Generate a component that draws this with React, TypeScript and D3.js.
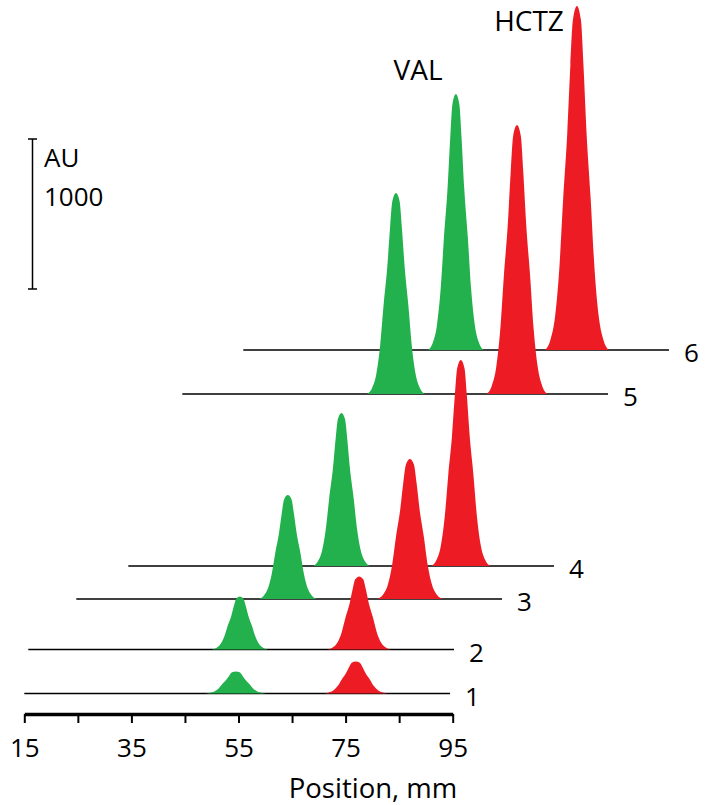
import React, { useEffect, useRef } from 'react';
import * as d3 from 'd3';

// tracks, front (1) to back (6)
const tracks = ['1', '2', '3', '4', '5', '6'];

// VAL peaks: position (mm), height (AU), width sigma (mm)
const valPos = [54.5, 54.5, 54.5, 54.8, 54.9, 54.7];
const valHeight = [147, 353, 693, 1020, 1340, 1707];
const valSigma = [1.9, 1.75, 1.8, 1.75, 1.77, 1.7];

// HCTZ peaks
const hctzPos = [76.9, 76.8, 77.3, 77.1, 77.5, 77.3];
const hctzHeight = [213, 487, 933, 1373, 1793, 2293];
const hctzSigma = [2.0, 1.95, 2.0, 1.8, 1.87, 1.96];

// peak shape read from the tallest HCTZ peak: offset (in sigma), relative height
const profile: [number, number][] = [
  [0, 1], [0.38, 0.96], [0.62, 0.83], [0.92, 0.63], [1.31, 0.44],
  [1.67, 0.24], [2.07, 0.1], [2.52, 0.03], [3.05, 0],
];

const axisTicks = [15, 25, 35, 45, 55, 65, 75, 85, 95];
const axisLabels = [15, 35, 55, 75, 95];

// layout: shift of each track baseline against the front axis (px)
const shiftX = [0, 4, 52, 104, 158, 219];
const shiftY = [-20.5, -64.5, -115, -148, -320, -364];

const GREEN = '#22b14c';
const RED = '#ed1c24';
const FONT = "'Open Sans', sans-serif";

export default function App() {
  const ref = useRef<SVGSVGElement>(null);

  useEffect(() => {
    const width = 705;
    const height = 805;
    const svg = d3.select(ref.current);
    svg.selectAll('*').remove();
    svg.attr('width', width).attr('height', height);

    const axisY = 714;
    const x = d3.scaleLinear().domain([15, 95]).range([24.3, 452.7]);
    const h = d3.scaleLinear().domain([0, 1000]).range([0, 150]);

    const shape = [
      ...profile.slice(1).reverse().map(([o, r]) => [-o, r]),
      ...profile,
    ];

    // back to front
    for (let i = tracks.length - 1; i >= 0; i--) {
      const dx = shiftX[i];
      const base = axisY + shiftY[i];
      const g = svg.append('g').attr('transform', `translate(${dx},0)`);

      g.append('line')
        .attr('x1', x(15))
        .attr('x2', x(94.5))
        .attr('y1', base)
        .attr('y2', base)
        .attr('stroke', '#000')
        .attr('stroke-width', 1.6);

      const peaks = [
        { pos: valPos[i], ht: valHeight[i], sd: valSigma[i], color: GREEN },
        { pos: hctzPos[i], ht: hctzHeight[i], sd: hctzSigma[i], color: RED },
      ];
      peaks.forEach((p) => {
        const area = d3
          .area<number[]>()
          .x((d) => x(p.pos + d[0] * p.sd))
          .y0(base)
          .y1((d) => base - h(p.ht * d[1]))
          .curve(d3.curveMonotoneX);
        g.append('path').datum(shape).attr('fill', p.color).attr('d', area);
      });

      g.append('text')
        .attr('x', x(94.5) + 15)
        .attr('y', base + 12)
        .attr('font-family', FONT)
        .attr('font-size', 26)
        .attr('fill', '#000')
        .text(tracks[i]);
    }

    // position axis
    const axis = d3
      .axisBottom(x)
      .tickValues(axisTicks)
      .tickSize(9)
      .tickSizeOuter(0)
      .tickPadding(16)
      .tickFormat((d) => (axisLabels.includes(+d) ? String(d) : ''));
    const ag = svg.append('g').attr('transform', `translate(0,${axisY})`).call(axis);
    ag.select('.domain').attr('stroke', '#000').attr('stroke-width', 3.5);
    ag.selectAll('.tick line').attr('stroke', '#000').attr('stroke-width', 2);
    ag.selectAll('.tick text')
      .attr('font-family', FONT)
      .attr('font-size', 26)
      .attr('fill', '#000');

    svg.append('text')
      .attr('x', 373)
      .attr('y', 798)
      .attr('text-anchor', 'middle')
      .attr('font-family', FONT)
      .attr('font-size', 27.5)
      .text('Position, mm');

    // AU scale bar
    const barX = 32.5;
    const barTop = 139;
    const bar = svg.append('g').attr('stroke', '#000').attr('stroke-width', 1.5);
    bar.append('line').attr('x1', barX).attr('x2', barX).attr('y1', barTop).attr('y2', barTop + h(1000));
    [barTop, barTop + h(1000)].forEach((yy) =>
      bar.append('line').attr('x1', barX - 4.5).attr('x2', barX + 4.5).attr('y1', yy).attr('y2', yy)
    );
    svg.append('text').attr('x', 44).attr('y', 167).attr('font-family', FONT).attr('font-size', 26).text('AU');
    svg.append('text').attr('x', 44).attr('y', 206).attr('font-family', FONT).attr('font-size', 26).text('1000');

    // compound labels
    svg.append('text').attr('x', 418).attr('y', 80).attr('text-anchor', 'middle')
      .attr('font-family', FONT).attr('font-size', 28).text('VAL');
    svg.append('text').attr('x', 529).attr('y', 31).attr('text-anchor', 'middle')
      .attr('font-family', FONT).attr('font-size', 28).text('HCTZ');
  }, []);

  return <svg ref={ref} style={{ position: 'absolute', left: 0, top: 0, background: '#fff' }} />;
}
